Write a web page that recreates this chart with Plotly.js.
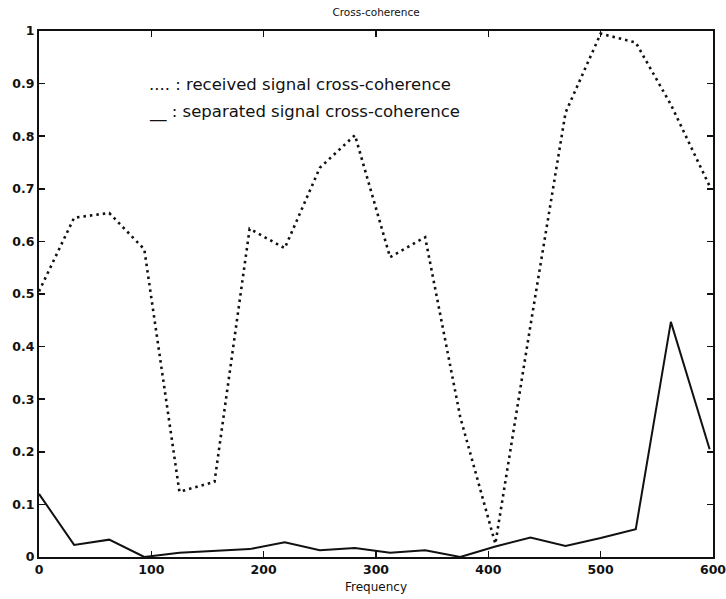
<!DOCTYPE html>
<html>
<head>
<meta charset="utf-8">
<script src="https://cdn.plot.ly/plotly-3.0.1.min.js"></script>
<style>html,body{margin:0;padding:0;background:#fff;}#chart{width:726px;height:599px;}</style>
</head>
<body>
<div id="chart"></div>
<script>
// Frequency samples (Hz)
const frequency = [0, 31.25, 62.5, 93.75, 125, 156.25, 187.5, 218.75, 250, 281.25,
                   312.5, 343.75, 375, 406.25, 437.5, 468.75, 500, 531.25, 562.5, 597];
// Received signal cross-coherence (dotted)
const receivedCoherence = [0.505, 0.645, 0.654, 0.585, 0.124, 0.143, 0.624, 0.587, 0.740, 0.802,
                           0.570, 0.608, 0.266, 0.025, 0.440, 0.845, 0.995, 0.978, 0.860, 0.705];
// Separated signal cross-coherence (solid)
const separatedCoherence = [0.120, 0.023, 0.033, 0.000, 0.008, 0.011, 0.015, 0.028, 0.013, 0.017,
                            0.008, 0.013, 0.000, 0.020, 0.037, 0.021, 0.036, 0.053, 0.447, 0.205];
const xTicks = [0, 100, 200, 300, 400, 500, 600];
const yTicks = [0, 0.1, 0.2, 0.3, 0.4, 0.5, 0.6, 0.7, 0.8, 0.9, 1];
const yTickLabels = ['0', '0.1', '0.2', '0.3', '0.4', '0.5', '0.6', '0.7', '0.8', '0.9', '1'];
const legendLines = ['.... : received signal cross-coherence', '__ : separated signal cross-coherence'];

const font = 'DejaVu Sans, Liberation Sans, Arial, sans-serif';
const traces = [
  {x: frequency, y: receivedCoherence, mode: 'lines', line: {color: '#111', width: 2.6, dash: '2.5px,4px'}, hoverinfo: 'none'},
  {x: frequency, y: separatedCoherence, mode: 'lines', line: {color: '#111', width: 2}, hoverinfo: 'none'}
];
const axisCommon = {showline: true, mirror: 'ticks', linecolor: '#111', linewidth: 2, ticks: 'inside',
  ticklen: 6, tickwidth: 1.5, tickcolor: '#111', showgrid: false, zeroline: false,
  ticklabeloverflow: 'allow',
  tickfont: {family: font, size: 12.5, color: '#111', weight: 'bold'}};
const layout = {
  width: 726, height: 599,
  margin: {l: 39, r: 13, t: 31, b: 42},
  paper_bgcolor: '#fff', plot_bgcolor: '#fff',
  showlegend: false,
  title: {text: 'Cross-coherence', font: {family: font, size: 10.5, color: '#111'}, x: 0.518, xanchor: 'center', y: 0.985, yanchor: 'top'},
  xaxis: Object.assign({}, axisCommon, {range: [0, 600], tickvals: xTicks, ticktext: xTicks.map(String),
    title: {text: 'Frequency', font: {family: font, size: 12, color: '#111'}, standoff: 7}}),
  yaxis: Object.assign({}, axisCommon, {range: [0, 1], tickvals: yTicks, ticktext: yTickLabels}),
  annotations: [
    {x: 96, y: 0.898, xref: 'x', yref: 'y', xanchor: 'left', yanchor: 'middle', showarrow: false,
     text: legendLines[0], font: {family: font, size: 16.5, color: '#111'}},
    {x: 96, y: 0.846, xref: 'x', yref: 'y', xanchor: 'left', yanchor: 'middle', showarrow: false,
     text: legendLines[1], font: {family: font, size: 16.5, color: '#111'}}
  ]
};
Plotly.newPlot('chart', traces, layout, {staticPlot: true, displayModeBar: false});
</script>
</body>
</html>
